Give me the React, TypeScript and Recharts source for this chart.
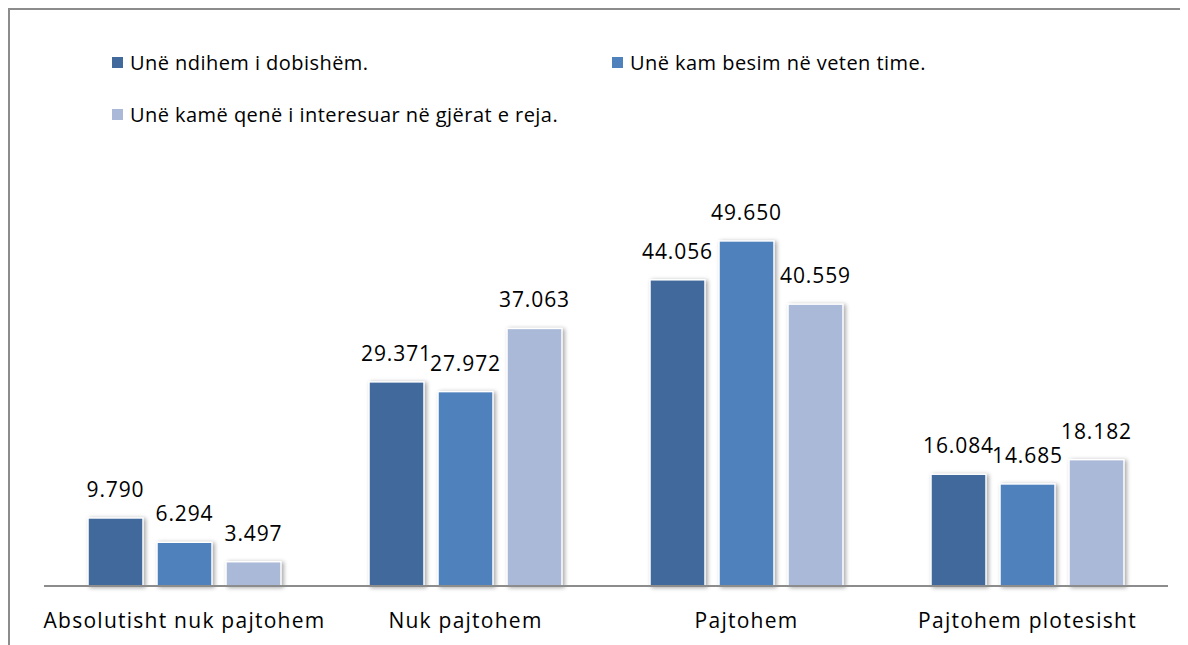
import { Bar, BarChart, LabelList, XAxis, YAxis } from "recharts";

// Kategoritë dhe vlerat (përqindje)
const CATEGORIES = [
  "Absolutisht nuk pajtohem",
  "Nuk pajtohem",
  "Pajtohem",
  "Pajtohem plotesisht",
];
const DOBISHEM = [9.79, 29.371, 44.056, 16.084];
const BESIM = [6.294, 27.972, 49.65, 14.685];
const INTERESUAR = [3.497, 37.063, 40.559, 18.182];

const SERIES = [
  { key: "dobishem", name: "Unë ndihem i dobishëm.", color: "#41699C" },
  { key: "besim", name: "Unë kam besim në veten time.", color: "#4F81BD" },
  { key: "interesuar", name: "Unë kamë qenë i interesuar në gjërat e reja.", color: "#AAB9D7" },
];

const data = CATEGORIES.map((c, i) => ({
  name: c,
  dobishem: DOBISHEM[i],
  besim: BESIM[i],
  interesuar: INTERESUAR[i],
}));

const FONT = "'Open Sans', 'Noto Sans', sans-serif";
const fmt = (v: number) => v.toFixed(3);

const ShadowBar = (props: any) => {
  const { x, y, width, height, fill } = props;
  if (!height || height <= 0) return null;
  return (
    <rect
      x={x}
      y={y}
      width={width}
      height={height}
      fill={fill}
      stroke="#ffffff"
      strokeWidth={1.5}
      style={{ filter: "drop-shadow(2px 1px 2px rgba(0,0,0,0.35))" }}
    />
  );
};

export default function App() {
  return (
    <div
      style={{
        position: "relative",
        width: 1180,
        height: 637,
        borderTop: "2px solid #8c8c8c",
        borderLeft: "2px solid #8c8c8c",
        boxSizing: "border-box",
        fontFamily: FONT,
        overflow: "hidden",
      }}
    >
      {/* legenda */}
      {SERIES.map((s, i) => {
        const left = i === 1 ? 602 : 102;
        const top = i === 2 ? 91 : 39;
        return (
          <div
            key={s.key}
            style={{
              position: "absolute",
              left,
              top,
              display: "flex",
              alignItems: "center",
              fontSize: 20,
              letterSpacing: 0.45,
              color: "#000",
              whiteSpace: "nowrap",
            }}
          >
            <span
              style={{
                display: "inline-block",
                width: 11,
                height: 11,
                background: s.color,
                marginRight: 7,
              }}
            />
            {s.name}
          </div>
        );
      })}
      <div style={{ position: "absolute", left: -2, top: -2 }}>
        <BarChart
          width={1172}
          height={629}
          data={data}
          margin={{ top: 161, right: 12, left: 36, bottom: 11 }}
          barCategoryGap={44}
          barGap={14}
        >
          <XAxis
            dataKey="name"
            height={40}
            tickLine={false}
            axisLine={{ stroke: "#8c8c8c", strokeWidth: 2 }}
            tick={{ fontSize: 21, fill: "#000", fontFamily: FONT, letterSpacing: 1.25 }}
            tickMargin={21}
            interval={0}
          />
          <YAxis hide domain={[0, 60]} />
          {SERIES.map((s) => (
            <Bar
              key={s.key}
              dataKey={s.key}
              name={s.name}
              fill={s.color}
              shape={<ShadowBar />}
              isAnimationActive={false}
            >
              <LabelList
                dataKey={s.key}
                position="top"
                offset={21}
                formatter={(v: any) => fmt(Number(v))}
                style={{ fontSize: 21, fill: "#000", fontFamily: FONT, letterSpacing: 0.9 }}
              />
            </Bar>
          ))}
        </BarChart>
      </div>
    </div>
  );
}
